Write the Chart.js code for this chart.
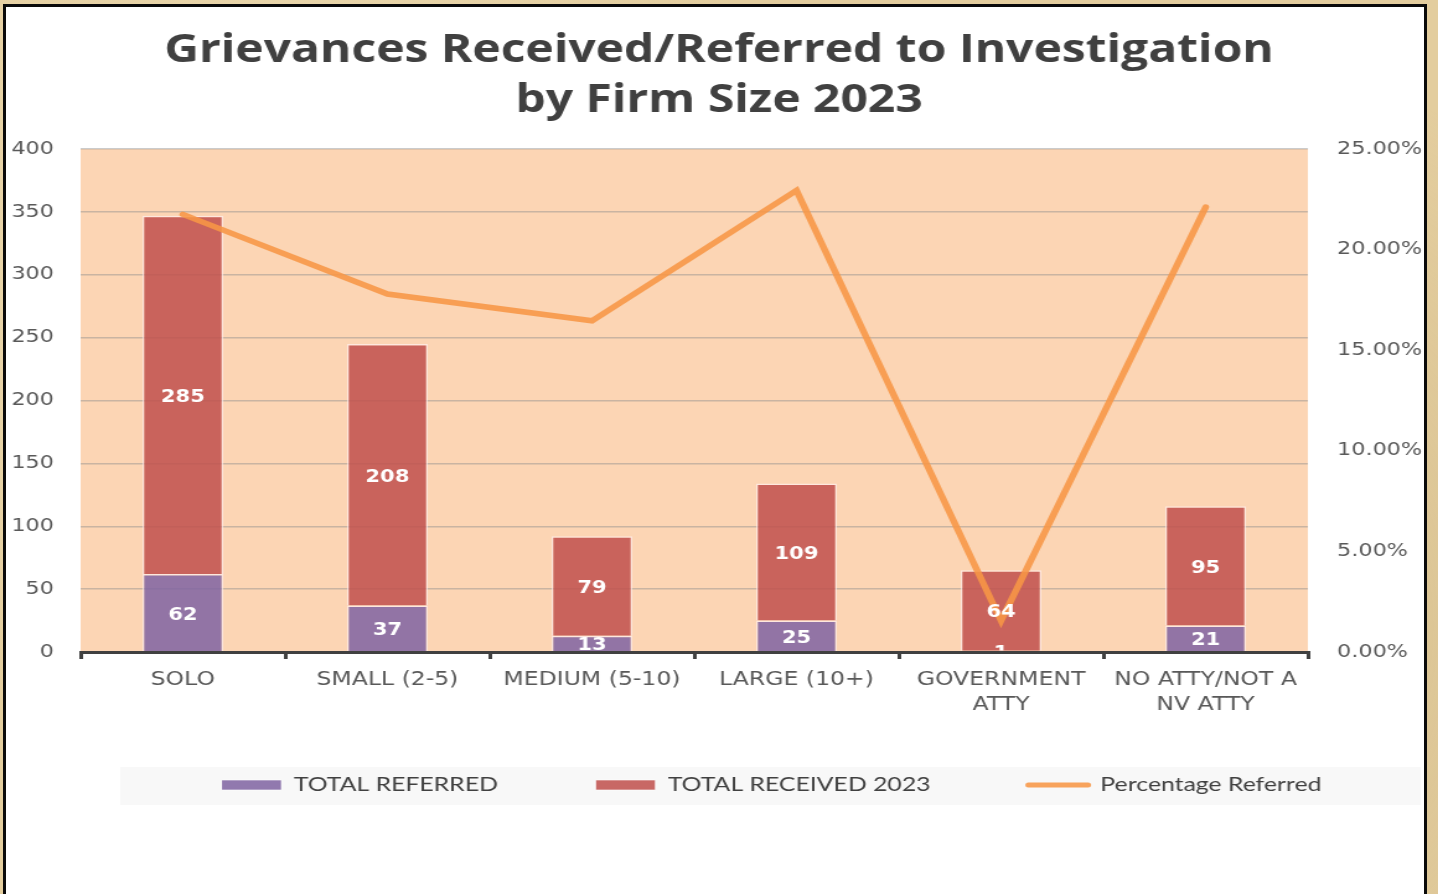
<!DOCTYPE html>
<html>
<head>
<meta charset="utf-8">
<script src="https://cdn.jsdelivr.net/npm/chart.js@4.4.1/dist/chart.umd.min.js"></script>
<style>
  html, body { margin: 0; padding: 0; width: 1438px; height: 894px; overflow: hidden; }
  body {
    background-color: #e3cd9e;
    background-image:
      radial-gradient(circle at 20% 30%, rgba(245,230,195,0.6), transparent 40%),
      radial-gradient(circle at 80% 70%, rgba(205,180,130,0.5), transparent 45%);
  }
  .panel { position: absolute; left: 3px; top: 4px; width: 1418px; height: 1000px;
           background: #ffffff; border: 3px solid #0a0a0a; }
  /* the reference is a horizontally stretched screenshot */
  #chart { position: absolute; left: 0; top: 0; transform: scaleX(1.2397); transform-origin: 0 0; }
</style>
</head>
<body>
<div class="panel"></div>
<canvas id="chart" width="1160" height="894"></canvas>
<script>
const categories = ['SOLO', 'SMALL (2-5)', 'MEDIUM (5-10)', 'LARGE (10+)', ['GOVERNMENT', 'ATTY'], ['NO ATTY/NOT A', 'NV ATTY']];
const totalReferred = [62, 37, 13, 25, 1, 21];
const totalReceived = [285, 208, 79, 109, 64, 95];
const percentReferred = [21.75, 17.79, 16.46, 22.94, 1.56, 22.11];
const titleLines = ['Grievances Received/Referred to Investigation', 'by Firm Size 2023'];

const purple = 'rgba(128,100,162,0.86)';
const red = 'rgba(192,80,77,0.86)';
const orange = 'rgba(247,150,70,0.88)';
const tickColor = '#595959';

const legendMid = 785;   // centre line of the legend row
const legendPad = 79;

// peach plot area, grey legend band, white value labels
const decor = {
  id: 'decor',
  afterLayout(chart) {
    const lg = chart.legend;
    const h = lg.bottom - lg.top;
    lg.left = 100;
    lg.right = 1158;
    lg.top = legendMid - legendPad - 10;
    lg.bottom = lg.top + h;
  },
  beforeDraw(chart) {
    const { ctx, chartArea: a } = chart;
    ctx.save();
    ctx.fillStyle = '#f8f8f8';
    ctx.fillRect(97, legendMid - 18, 1049, 38);
    ctx.fillStyle = '#fcd5b4';
    ctx.fillRect(a.left, a.top, a.right - a.left, a.bottom - a.top);
    ctx.restore();
  },
  afterDatasetsDraw(chart) {
    const { ctx, chartArea: a } = chart;
    ctx.save();
    ctx.beginPath();
    ctx.rect(a.left, a.top, a.right - a.left, a.bottom - a.top - 1.5);
    ctx.clip();
    ctx.font = 'bold 17px "DejaVu Sans"';
    ctx.fillStyle = '#ffffff';
    ctx.textAlign = 'center';
    ctx.textBaseline = 'middle';
    [0, 1].forEach(di => {
      const meta = chart.getDatasetMeta(di);
      meta.data.forEach((bar, i) => {
        const p = bar.getProps(['x', 'y', 'base'], true);
        ctx.fillText(String(chart.data.datasets[di].data[i]), p.x, (p.y + p.base) / 2 + 2.5);
      });
    });
    ctx.restore();
  }
};

new Chart(document.getElementById('chart'), {
  data: {
    labels: categories,
    datasets: [
      { type: 'bar', label: 'TOTAL REFERRED', data: totalReferred, backgroundColor: purple,
        borderColor: 'rgba(255,240,240,0.7)', borderWidth: 1.5, yAxisID: 'y',
        categoryPercentage: 1, barPercentage: 0.396 },
      { type: 'bar', label: 'TOTAL RECEIVED 2023', data: totalReceived, backgroundColor: red,
        borderColor: 'rgba(255,240,240,0.7)', borderWidth: 1.5, yAxisID: 'y',
        categoryPercentage: 1, barPercentage: 0.396 },
      { type: 'line', label: 'Percentage Referred', data: percentReferred, borderColor: orange,
        backgroundColor: orange, borderWidth: 5.5, pointRadius: 0, tension: 0, order: -1,
        borderCapStyle: 'round', yAxisID: 'y1' }
    ]
  },
  options: {
    responsive: false,
    animation: false,
    devicePixelRatio: 1,
    layout: { padding: { left: 0, right: 0, top: 0, bottom: 63 } },
    scales: {
      x: {
        stacked: true,
        grid: { drawOnChartArea: false, drawTicks: true, tickLength: 7, color: '#404040', lineWidth: 3 },
        border: { display: true, color: '#404040', width: 3, z: 1 },
        ticks: { color: tickColor, font: { family: 'DejaVu Sans', size: 19, lineHeight: 25 / 19 },
                 padding: 8.5, autoSkip: false, maxRotation: 0 },
        afterFit(s) { s.height = 70; }
      },
      y: {
        stacked: true, min: 0, max: 400,
        grid: { color: 'rgba(140,140,140,0.45)', lineWidth: 1.5, drawTicks: false },
        border: { display: false },
        ticks: { stepSize: 50, color: tickColor, padding: 21.5, font: { family: 'DejaVu Sans', size: 18 } },
        afterFit(s) { s.width = 65; }
      },
      y1: {
        position: 'right', min: 0, max: 25,
        grid: { display: false },
        border: { display: false },
        ticks: { stepSize: 5, color: tickColor, padding: 15.5,
                 font: { family: 'DejaVu Sans', size: 18 },
                 callback: v => v.toFixed(2) + '%' },
        afterFit(s) { s.width = 105; }
      }
    },
    plugins: {
      title: {
        display: true, text: titleLines, color: '#404040',
        font: { family: 'Open Sans', weight: 'bold', size: 38.7, lineHeight: 50 / 38.7 },
        padding: { top: 26, bottom: 23 }
      },
      legend: {
        position: 'bottom', align: 'start',
        labels: {
          padding: legendPad, usePointStyle: true, pointStyleWidth: 48, boxHeight: 10,
          color: '#404040', font: { family: 'Lato', size: 20 },
          generateLabels(chart) {
            return chart.data.datasets.map((ds, i) => {
              const isLine = ds.type === 'line';
              return {
                text: ds.label, datasetIndex: i, hidden: false,
                fillStyle: ds.backgroundColor,
                strokeStyle: isLine ? ds.borderColor : 'rgba(255,255,255,0.6)',
                lineWidth: isLine ? 5 : 1, lineCap: 'round',
                pointStyle: isLine ? 'line' : 'rect', fontColor: '#404040'
              };
            });
          }
        }
      },
      tooltip: { enabled: false }
    }
  },
  plugins: [decor]
});
</script>
</body>
</html>
